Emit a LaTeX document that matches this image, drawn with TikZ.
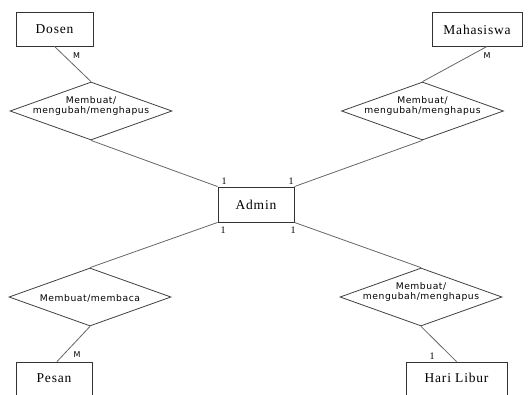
\documentclass[tikz,border=0pt]{standalone}
\usepackage{fontspec}
\setmainfont{Liberation Serif}
\newfontfamily\boxfont[LetterSpace=6]{Liberation Serif}
\newfontfamily\relfont[LetterSpace=6]{DejaVu Sans}
\usetikzlibrary{shapes.geometric}
\tikzset{
  entity/.style={draw=black!80, line width=0.9pt, fill=white, inner sep=0pt, minimum height=34pt},
  entlabel/.style={font=\boxfont\fontsize{13.5}{15}\selectfont, inner sep=0pt},
  relshape/.style={diamond, draw=black!75, line width=0.8pt, inner sep=0pt, minimum width=162pt, minimum height=58pt},
  rellabel/.style={font=\relfont\fontsize{9.2}{10}\selectfont, align=center, inner sep=0pt},
  conn/.style={draw=black!60, line width=0.8pt},
  card/.style={font=\relfont\fontsize{8}{9}\selectfont, inner sep=0pt},
  cardone/.style={font=\fontsize{10}{11}\selectfont, inner sep=0pt}
}
\begin{document}
\begin{tikzpicture}[x=1pt, y=-1pt]
\useasboundingbox (0,0) rectangle (530,394);
\clip (0,0) rectangle (530,394);
% entities
\node[entity, minimum width=77pt] (dosen) at (54.5,29) {};
\node[entlabel] (dosenl) at (54.5,29.5) {Dosen};
\node[entity, minimum width=90pt] (mhs) at (477,29) {};
\node[entlabel] (mhsl) at (477,29.5) {Mahasiswa};
\node[entity, minimum width=76pt, minimum height=35pt] (admin) at (256,204.5) {};
\node[entlabel] (adminl) at (256,205) {Admin};
\node[entity, minimum width=76pt] (pesan) at (54,379) {};
\node[entlabel] (pesanl) at (54,378) {Pesan};
\node[entity, minimum width=101pt] (libur) at (456.5,379) {};
\node[entlabel] (liburl) at (456.5,378) {Hari Libur};
% relationships
\node[relshape] (r1) at (91,111) {};
\node[rellabel] (r1l) at (91,106) {Membuat/\\mengubah/menghapus};
\node[relshape] (r2) at (422.5,111) {};
\node[rellabel] (r2l) at (422.5,106) {Membuat/\\mengubah/menghapus};
\node[relshape] (r3) at (90,297) {};
\node[rellabel] (r3l) at (90,298) {Membuat/membaca};
\node[relshape] (r4) at (421,297) {};
\node[rellabel] (r4l) at (421,292) {Membuat/\\mengubah/menghapus};
% connectors
\draw[conn] (dosen.south) -- (r1.north);
\draw[conn] ([xshift=10pt]mhs.south) -- (r2.north);
\draw[conn] (r1.south) -- (admin.north west);
\draw[conn] (r2.south) -- (admin.north east);
\draw[conn] (admin.south west) -- (r3.north);
\draw[conn] (admin.south east) -- (r4.north);
\draw[conn] (r3.south) -- ([xshift=3pt]pesan.north);
\draw[conn] (r4.south) -- (libur.north);
% cardinalities
\node[card] (c1) at (76.5,56) {M};
\node[card] (c2) at (487,56) {M};
\node[cardone] (c3) at (224,181) {1};
\node[cardone] (c4) at (291,181) {1};
\node[cardone] (c5) at (223,230) {1};
\node[cardone] (c6) at (293,230) {1};
\node[card] (c7) at (77,355) {M};
\node[cardone] (c8) at (432,356) {1};
\end{tikzpicture}
\end{document}
